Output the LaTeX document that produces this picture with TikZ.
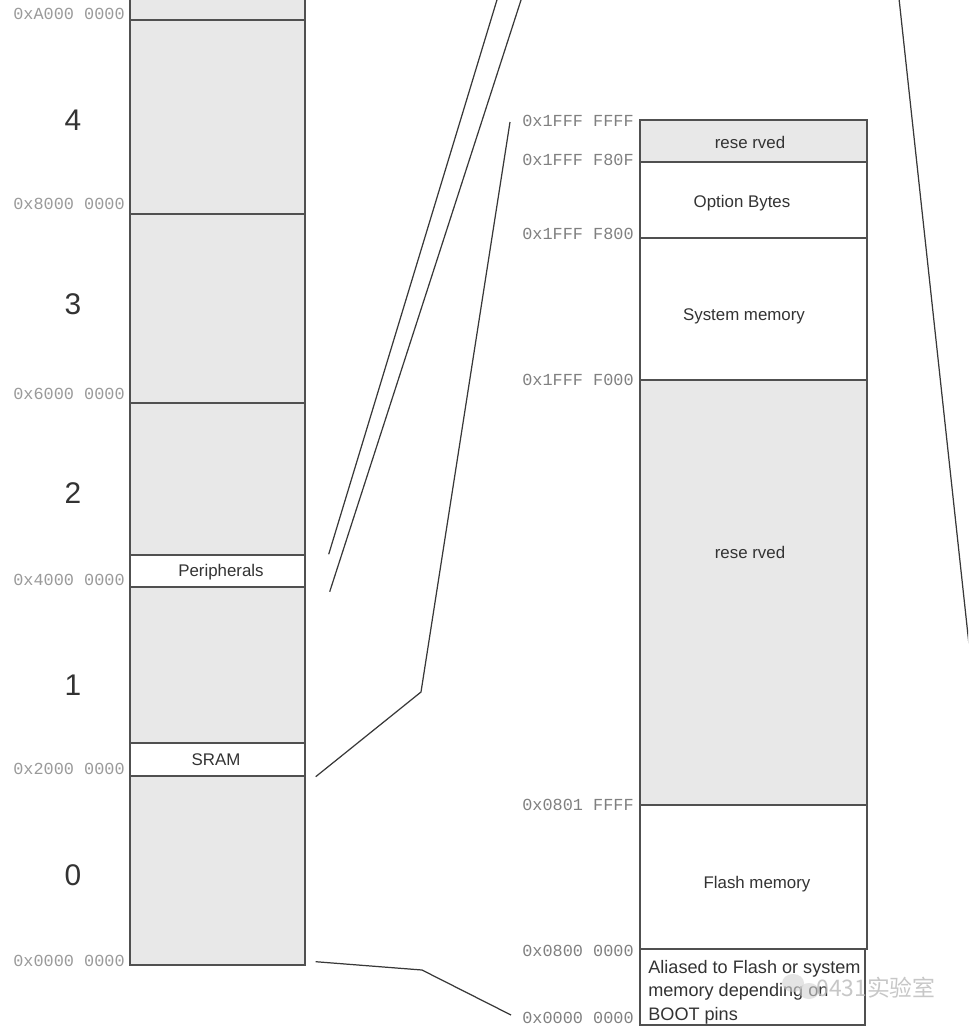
\documentclass[tikz,border=0pt]{standalone}
\usepackage{fontspec}
\setmainfont{Liberation Sans}
\newfontfamily\monof{Liberation Mono}
\newfontfamily\cjkf{Noto Sans CJK SC}
\usetikzlibrary{calc}
\definecolor{boxc}{HTML}{505050}
\definecolor{fillg}{HTML}{E8E8E8}
\definecolor{txtc}{HTML}{333333}
\definecolor{addrl}{HTML}{9A9A9A}
\definecolor{addrr}{HTML}{808080}
\definecolor{linec}{HTML}{383838}
\begin{document}
\begin{tikzpicture}[x=0.02cm,y=-0.02cm,
  reg/.style n args={2}{rectangle, draw=boxc, line width=0.8pt, inner sep=0pt,
     minimum width=#1*0.02cm, minimum height=#2*0.02cm,
     font=\fontsize{9.6}{11}\selectfont, text=txtc},
  gr/.style={fill=fillg},
  wh/.style={fill=white},
  lab/.style={inner sep=0pt, font=\fontsize{9.6}{11}\selectfont, text=txtc},
  num/.style={font=\fontsize{17}{18}\selectfont, text=txtc},
  addl/.style={anchor=east, inner sep=0pt, font=\monof\fontsize{9.6}{10}\selectfont, text=addrl},
  addr/.style={anchor=east, inner sep=0pt, font=\monof\fontsize{9.6}{10}\selectfont, text=addrr},
  conn/.style={draw=linec, line width=0.7pt}
]
\useasboundingbox (0,0) rectangle (968,1031);
\clip (0,0) rectangle (968,1031);

% ---- left column ----
\node[reg={175}{40}, gr] (rtop) at (217.5,0) {};
\node[reg={175}{194}, gr] (r4) at (217.5,117) {};
\node[reg={175}{189}, gr] (r3) at (217.5,308.5) {};
\node[reg={175}{152}, gr] (r2) at (217.5,479) {};
\node[reg={175}{32}, wh] (periph) at (217.5,571) {};
\node[reg={175}{156}, gr] (r1) at (217.5,665) {};
\node[reg={175}{33}, wh] (sram) at (217.5,759.5) {};
\node[reg={175}{189}, gr] (r0) at (217.5,870.5) {};
\node[lab] (tperiph) at (221,572) {Peripherals};
\node[lab] (tsram) at (216,760) {SRAM};

\node[num] (n4) at (73,120) {4};
\node[num] (n3) at (73,304) {3};
\node[num] (n2) at (73,493) {2};
\node[num] (n1) at (73,685) {1};
\node[num] (n0) at (73,875) {0};

\node[addl] (aA) at (125,14) {0xA000 0000};
\node[addl] (a8) at (125,204) {0x8000 0000};
\node[addl] (a6) at (125,394) {0x6000 0000};
\node[addl] (a4) at (125,580) {0x4000 0000};
\node[addl] (a2) at (125,769) {0x2000 0000};
\node[addl] (a0) at (125,961) {0x0000 0000};

% ---- right column ----
\node[reg={227}{42}, gr] (resv1) at (753.5,141) {};
\node[reg={227}{76}, wh] (opt) at (753.5,200) {};
\node[reg={227}{142}, wh] (sys) at (753.5,309) {};
\node[reg={227}{425}, gr] (resv2) at (753.5,592.5) {};
\node[reg={227}{144}, wh] (flash) at (753.5,877) {};
\node[reg={225}{76}, wh] (alias) at (752.5,987) {};
\node[lab] (tresv1) at (750,142) {rese rved};
\node[lab] (topt) at (742,203) {Option Bytes};
\node[lab] (tsys) at (744,316) {System memory};
\node[lab] (tresv2) at (750,552) {rese rved};
\node[lab] (tflash) at (757,884) {Flash memory};
\node[anchor=north west, inner sep=0pt, align=left, text=txtc,
      font=\fontsize{10.3}{13.3}\selectfont] (aliastxt) at (648,960)
  {Aliased to Flash or system\\memory depending on\\BOOT pins};

\node[addr] (b1) at (634,121) {0x1FFF FFFF};
\node[addr] (b2) at (634,160) {0x1FFF F80F};
\node[addr] (b3) at (634,234) {0x1FFF F800};
\node[addr] (b4) at (634,380) {0x1FFF F000};
\node[addr] (b5) at (634,805) {0x0801 FFFF};
\node[addr] (b6) at (634,951) {0x0800 0000};
\node[addr] (b7) at (634,1018) {0x0000 0000};

% ---- connectors ----
\coordinate (l1a) at ($(periph.north east)+(23,0)$);
\coordinate (l1b) at (503,-20);
\coordinate (l2a) at ($(periph.south east)+(24,4)$);
\coordinate (l2b) at (527.5,-20);
\coordinate (l3a) at ($(sram.south east)+(10,0)$);
\coordinate (l3k) at (421,692);
\coordinate (l3b) at (510,122);
\coordinate (l4a) at ($(r0.south east)+(10,-4)$);
\coordinate (l4k) at (422,970);
\coordinate (l4b) at (511,1015);
\coordinate (l5a) at (897,-20);
\coordinate (l5b) at (975,700);

\draw[conn] (l1a) -- (l1b);
\draw[conn] (l2a) -- (l2b);
\draw[conn] (l3a) -- (l3k) -- (l3b);
\draw[conn] (l4a) -- (l4k) -- (l4b);
\draw[conn] (l5a) -- (l5b);

% ---- watermark ----
\fill[gray!35, opacity=0.6] (793,983) ellipse [x radius=11, y radius=9];
\fill[gray!35, opacity=0.6] (809,991) ellipse [x radius=10, y radius=8];
\node[font=\cjkf\fontsize{13}{13}\selectfont, text=gray!55, opacity=0.8] (wm) at (876,988) {0431实验室};
\end{tikzpicture}
\end{document}
